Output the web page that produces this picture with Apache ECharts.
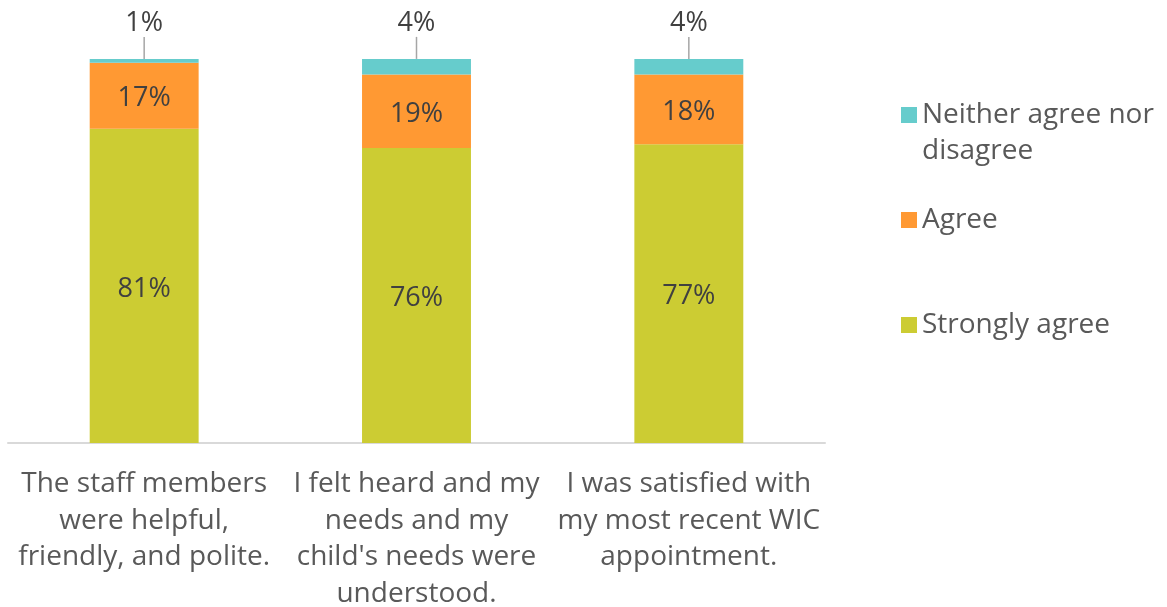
<!DOCTYPE html>
<html><head><meta charset="utf-8">
<script src="https://cdn.jsdelivr.net/npm/echarts@6/dist/echarts.min.js"></script>
<style>html,body{margin:0;padding:0;background:#fff}#c{width:1167px;height:607px}</style>
</head><body><div id="c"></div>
<script>
const categories = [
  "The staff members\nwere helpful,\nfriendly, and polite.",
  "I felt heard and my\nneeds and my\nchild's needs were\nunderstood.",
  "I was satisfied with\nmy most recent WIC\nappointment."
];
const seriesNames = ["Strongly agree", "Agree", "Neither agree nor disagree"];
const stronglyAgree = [81, 76, 77];
const agree = [17, 19, 18];
const neither = [1, 4, 4];
const colors = ["#CCCC33", "#FF9933", "#66CCCC"];
const FONT = "Open Sans";

const chart = echarts.init(document.getElementById('c'));
const insideLabel = {show: true, position: 'inside', offset: [0, 3], formatter: '{c}%', color: '#404040', fontSize: 27, fontFamily: FONT};
const legendBase = {orient: 'vertical', left: 896, itemWidth: 16, itemHeight: 16, itemGap: 0, icon: 'rect',
  textStyle: {color: '#595959', fontSize: 28, fontFamily: FONT, lineHeight: 36}};
chart.setOption({
  animation: false,
  grid: {left: 8, right: 342, top: 55, bottom: 164, outerBoundsMode: 'none', containLabel: false},
  xAxis: {type: 'category', data: categories,
    axisLine: {lineStyle: {color: '#d9d9d9', width: 2}}, axisTick: {show: false},
    axisLabel: {color: '#595959', fontSize: 28, fontFamily: FONT, lineHeight: 36.5, margin: 23, interval: 0}},
  yAxis: {type: 'value', min: 0, max: 100, show: false, splitLine: {show: false}},
  legend: [
    Object.assign({}, legendBase, {top: 56, data: [seriesNames[2]],
      formatter: () => '{e| }\n{a|Neither agree nor}\n{a|disagree}',
      textStyle: Object.assign({}, legendBase.textStyle, {rich: {e: {lineHeight: 36, fontSize: 28}, a: {lineHeight: 36, fontSize: 28, color: '#595959', fontFamily: FONT}}})}),
    Object.assign({}, legendBase, {top: 197, data: [seriesNames[1]]}),
    Object.assign({}, legendBase, {top: 302, data: [seriesNames[0]]})
  ],
  series: [
    {name: seriesNames[0], type: 'bar', stack: 's', data: stronglyAgree, barWidth: '40%', itemStyle: {color: colors[0]}, label: insideLabel},
    {name: seriesNames[1], type: 'bar', stack: 's', data: agree, barWidth: '40%', itemStyle: {color: colors[1]}, label: insideLabel},
    {name: seriesNames[2], type: 'bar', stack: 's', data: neither, barWidth: '40%', itemStyle: {color: colors[2]},
      label: {show: true, position: 'top', distance: 5, formatter: '{c}%', color: '#404040', fontSize: 27, fontFamily: FONT},
      labelLayout: {dy: -17},
      labelLine: {show: true, lineStyle: {color: '#a6a6a6', width: 1.5}}}
  ]
});
</script></body></html>
